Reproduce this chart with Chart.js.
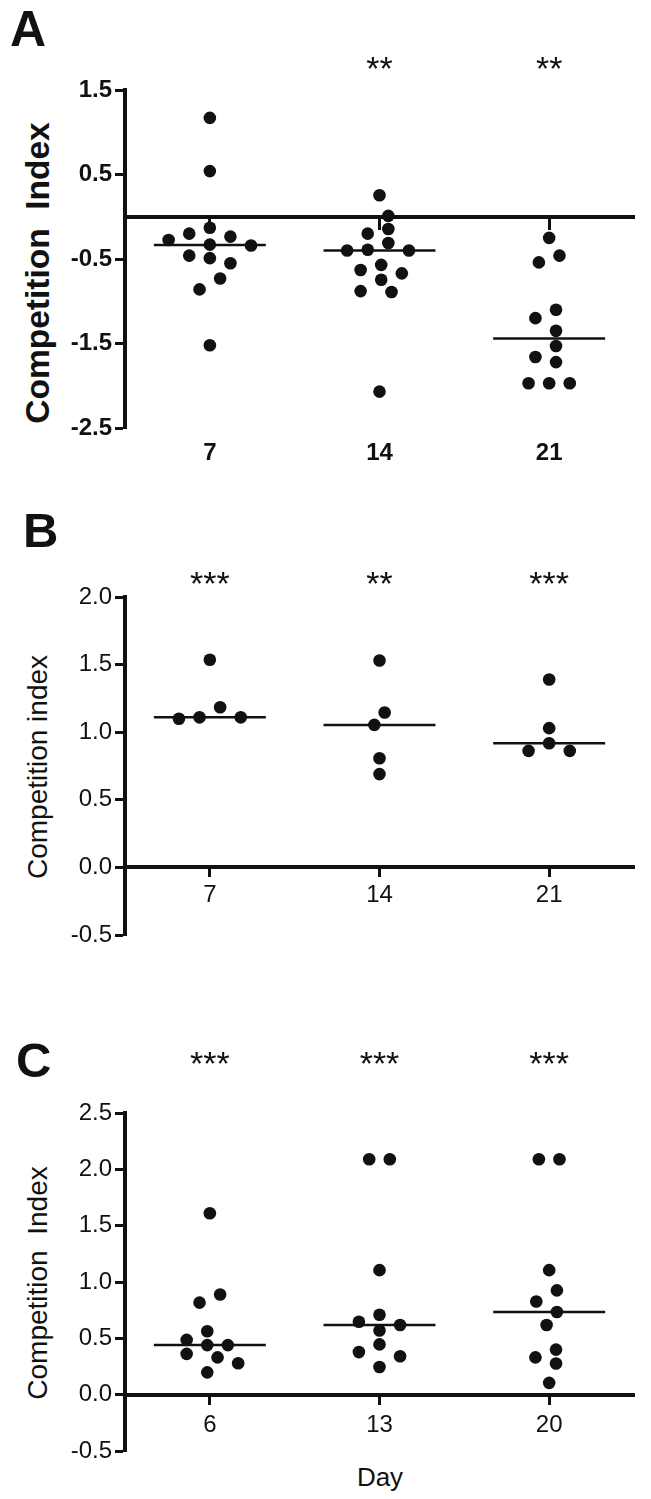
<!DOCTYPE html>
<html>
<head>
<meta charset="utf-8">
<script src="https://cdn.jsdelivr.net/npm/chart.js@4/dist/chart.umd.min.js"></script>
<style>
  body { margin: 0; background: #fff; }
  #page { position: relative; width: 651px; height: 1499px; overflow: hidden; font-family: 'Liberation Sans', Arial, sans-serif; color: #111; }
  canvas { position: absolute; left: 0; }
  .letter { position: absolute; font-weight: bold; line-height: 1; }
  .ytitle { position: absolute; white-space: pre; transform: translate(-50%, -50%) rotate(-90deg); line-height: 1; }
  .xtitle { position: absolute; transform: translate(-50%, -50%); line-height: 1; }
</style>
</head>
<body>
<div id="page">
  <div class="letter" style="left:10px; top:4px; font-size:50px;">A</div>
  <div class="letter" style="left:23px; top:506px; font-size:49px;">B</div>
  <div class="letter" style="left:16px; top:1036px; font-size:49px;">C</div>
  <div class="ytitle" style="left:38px; top:273px; font-size:33.5px; font-weight:bold;">Competition  Index</div>
  <div class="ytitle" style="left:38px; top:767px; font-size:28px;">Competition index</div>
  <div class="ytitle" style="left:38px; top:1283px; font-size:28px;">Competition  Index</div>
  <div class="xtitle" style="left:380px; top:1477px; font-size:26px;">Day</div>
  <canvas id="chartA" width="651" height="480" style="top:0px"></canvas>
  <canvas id="chartB" width="651" height="480" style="top:480px"></canvas>
  <canvas id="chartC" width="651" height="539" style="top:960px"></canvas>
</div>
<script>
// Panel A
const daysA = ['7', '14', '21'];
const day7A = [1.17, 0.54, -0.13, -0.20, -0.235, -0.275, -0.33, -0.34, -0.46, -0.49, -0.55, -0.73, -0.86, -1.52];
const day14A = [0.255, 0.01, -0.145, -0.20, -0.31, -0.39, -0.40, -0.40, -0.57, -0.63, -0.67, -0.745, -0.88, -0.89, -2.07];
const day21A = [-0.25, -0.46, -0.54, -1.10, -1.20, -1.35, -1.53, -1.66, -1.72, -1.97, -1.97, -1.97];
const starsA = ['', '**', '**'];
const yTicksA = [-2.5, -1.5, -0.5, 0.5, 1.5];

// Panel B
const daysB = ['7', '14', '21'];
const day7B = [1.536, 1.11, 1.10, 1.11, 1.185];
const day14B = [1.53, 1.146, 1.054, 0.807, 0.69];
const day21B = [1.39, 1.03, 0.918, 0.862, 0.862];
const starsB = ['***', '**', '***'];
const yTicksB = [-0.5, 0.0, 0.5, 1.0, 1.5, 2.0];

// Panel C
const daysC = ['6', '13', '20'];
const day6C = [1.61, 0.889, 0.817, 0.563, 0.486, 0.44, 0.44, 0.362, 0.331, 0.279, 0.198];
const day13C = [2.09, 2.09, 1.105, 0.709, 0.647, 0.619, 0.57, 0.446, 0.378, 0.341, 0.245];
const day20C = [2.09, 2.09, 1.105, 0.926, 0.827, 0.734, 0.619, 0.40, 0.331, 0.276, 0.105];
const starsC = ['***', '***', '***'];
const yTicksC = [-0.5, 0.0, 0.5, 1.0, 1.5, 2.0, 2.5];

const INK = '#111';
Chart.defaults.font.family = "'Liberation Sans', Arial, sans-serif";
Chart.defaults.color = INK;

function median(arr) {
    const s = arr.slice().sort(function (a, b) { return a - b; });
    const m = s.length >> 1;
    return s.length % 2 ? s[m] : (s[m - 1] + s[m]) / 2;
}

// spread the dots of one group sideways so they do not overlap (scatter layout)
function swarm(values, yScale) {
    const slot = 10.3, rowGap = 12, minDist = 13;
    const pts = values.map(function (v) { return { v: v, py: yScale.getPixelForValue(v), dx: 0 }; });
    const order = pts.slice().sort(function (a, b) { return b.v - a.v; });
    const placed = [];
    order.forEach(function (p) {
        for (let k = 0; k < 60; k++) {
            const step = k === 0 ? 0 : (k % 2 ? -Math.ceil(k / 2) : Math.ceil(k / 2));
            const dx = step * slot;
            const hit = placed.some(function (q) {
                const ax = Math.abs(q.dx - dx), ay = Math.abs(q.py - p.py);
                return (ax < 2 * slot - 0.5 && ay < rowGap) || Math.hypot(ax, ay) < minDist;
            });
            if (!hit) { p.dx = dx; break; }
        }
        placed.push(p);
    });
    // centre each separate cluster on its category
    let cluster = [];
    const flush = function () {
        if (!cluster.length) return;
        const mean = cluster.reduce(function (s, p) { return s + p.dx; }, 0) / cluster.length;
        cluster.forEach(function (p) { p.dx -= mean; });
        cluster = [];
    };
    order.forEach(function (p, i) {
        if (i > 0 && p.py - order[i - 1].py > minDist + 1) flush();
        cluster.push(p);
    });
    flush();
    return pts;
}

const starPlugin = {
    id: 'stars',
    afterDraw(chart, args, opts) {
        const ctx = chart.ctx;
        const xs = chart.scales.x;
        ctx.save();
        ctx.font = '34px "Liberation Sans", Arial, sans-serif';
        ctx.fillStyle = INK;
        ctx.textAlign = 'center';
        ctx.textBaseline = 'middle';
        opts.marks.forEach(function (s, i) {
            if (s) ctx.fillText(s, xs.getPixelForValue(i), opts.y);
        });
        ctx.restore();
    }
};

function buildPanel(id, p) {
    const datasets = [];
    p.groups.forEach(function (vals, i) {
        datasets.push({
            type: 'scatter',
            data: vals.map(function (v) { return { x: i, y: v }; }),
            pointRadius: 6.3,
            pointHoverRadius: 6.3,
            pointBackgroundColor: INK,
            pointBorderWidth: 0,
            order: 1
        });
    });
    p.groups.forEach(function (vals, i) {
        const m = median(vals);
        datasets.push({
            type: 'line',
            data: [{ x: i - 0.33, y: m }, { x: i + 0.33, y: m }],
            borderColor: INK,
            borderWidth: 2.5,
            pointRadius: 0,
            order: 2
        });
    });

    const catTicks = function (s) { s.ticks = [0, 1, 2].map(function (v) { return { value: v }; }); };
    const tickFont = { size: 24, weight: p.bold ? 'bold' : 'normal' };

    const scales = {
        y: {
            type: 'linear',
            position: 'left',
            min: p.yTicks[0],
            max: p.yTicks[p.yTicks.length - 1],
            afterBuildTicks: function (s) { s.ticks = p.yTicks.map(function (v) { return { value: v }; }); },
            afterFit: function (s) { s.width = 125; },
            ticks: { font: tickFont, color: INK, padding: 3, callback: function (v) { return v.toFixed(1); } },
            grid: { drawOnChartArea: false, drawTicks: true, tickLength: 10, tickWidth: 3, tickColor: INK },
            border: { display: true, width: 4, color: INK }
        }
    };

    if (p.labelsAtBottom) {
        scales.x = {
            type: 'linear', position: 'bottom', min: -0.5, max: 2.5,
            afterBuildTicks: catTicks,
            afterFit: function (s) { s.height = p.bottomHeight; },
            ticks: { font: tickFont, color: INK, padding: 11, callback: function (v) { return p.days[v]; } },
            grid: { display: false, drawTicks: false },
            border: { display: false }
        };
        scales.x0 = {
            type: 'linear', position: { y: 0 }, min: -0.5, max: 2.5,
            afterBuildTicks: catTicks,
            afterFit: function (s) { s.height = 0; },
            ticks: { display: false },
            grid: { drawOnChartArea: false, drawTicks: true, tickLength: 11, tickWidth: 3, tickColor: INK },
            border: { display: true, width: 4, color: INK }
        };
    } else {
        scales.x = {
            type: 'linear', position: { y: 0 }, min: -0.5, max: 2.5,
            afterBuildTicks: catTicks,
            afterFit: function (s) { s.height = 0; },
            ticks: { font: tickFont, color: INK, padding: p.xPad, callback: function (v) { return p.days[v]; } },
            grid: { drawOnChartArea: false, drawTicks: true, tickLength: 8, tickWidth: 3, tickColor: INK },
            border: { display: true, width: 4, color: INK }
        };
    }

    const chart = new Chart(document.getElementById(id), {
        data: { datasets: datasets },
        options: {
            responsive: false,
            animation: false,
            devicePixelRatio: 1,
            layout: { padding: p.padding },
            scales: scales,
            plugins: {
                legend: { display: false },
                tooltip: { enabled: false },
                stars: { marks: p.stars, y: p.starY }
            }
        },
        plugins: [starPlugin]
    });

    const xs = chart.scales.x, ys = chart.scales.y;
    const unit = xs.getPixelForValue(1) - xs.getPixelForValue(0);
    p.groups.forEach(function (vals, i) {
        chart.data.datasets[i].data = swarm(vals, ys).map(function (pt) {
            return { x: i + pt.dx / unit, y: pt.v };
        });
    });
    chart.update('none');
    return chart;
}

buildPanel('chartA', {
    groups: [day7A, day14A, day21A], days: daysA, stars: starsA, yTicks: yTicksA,
    bold: true, labelsAtBottom: true, bottomHeight: 52, starY: 71,
    padding: { top: 90, right: 17, bottom: 0, left: 0 }
});
buildPanel('chartB', {
    groups: [day7B, day14B, day21B], days: daysB, stars: starsB, yTicks: yTicksB,
    bold: false, xPad: 6, starY: 106,
    padding: { top: 117, right: 17, bottom: 25, left: 0 }
});
buildPanel('chartC', {
    groups: [day6C, day13C, day20C], days: daysC, stars: starsC, yTicks: yTicksC,
    bold: false, xPad: 8, starY: 106,
    padding: { top: 153, right: 17, bottom: 48, left: 0 }
});
</script>
</body>
</html>
